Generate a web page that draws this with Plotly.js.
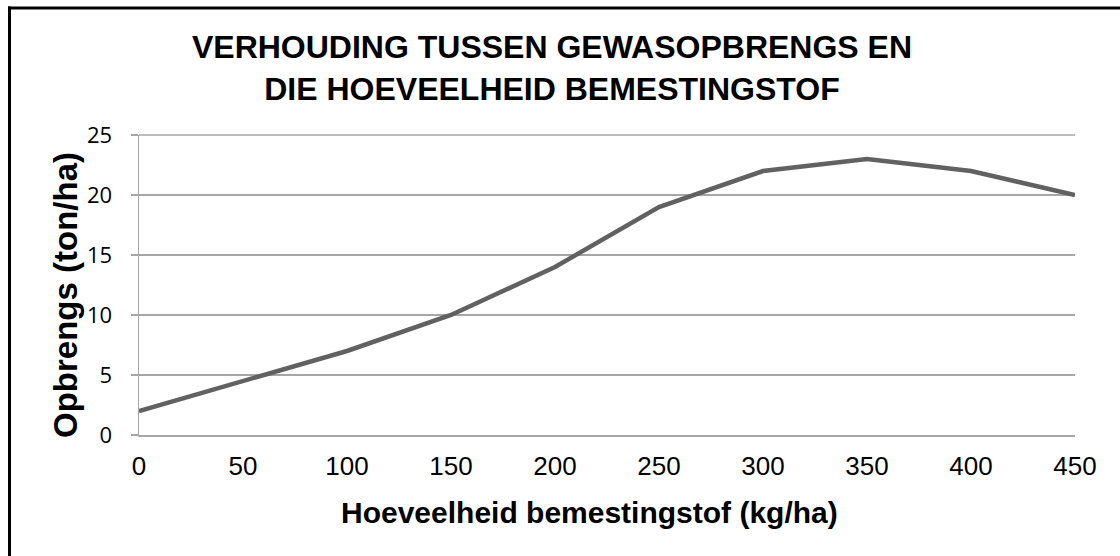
<!DOCTYPE html>
<html>
<head>
<meta charset="utf-8">
<script src="https://cdn.plot.ly/plotly-3.0.1.min.js"></script>
<style>
  html, body { margin: 0; padding: 0; background: #fff; }
  #chart { width: 1120px; height: 556px; }
</style>
</head>
<body>
<div id="chart"></div>
<script>
const fertilizer = [0, 50, 100, 150, 200, 250, 300, 350, 400, 450];
const yieldTon = [2, 4.5, 7, 10, 14, 19, 22, 23, 22, 20];
const xTicks = [0, 50, 100, 150, 200, 250, 300, 350, 400, 450];
const yTicks = [0, 5, 10, 15, 20, 25];
const chartTitle = 'VERHOUDING TUSSEN GEWASOPBRENGS EN<br>DIE HOEVEELHEID BEMESTINGSTOF';
const xTitle = 'Hoeveelheid bemestingstof (kg/ha)';
const yTitle = 'Opbrengs (ton/ha)';

const L = 139, R = 1075, T = 135, B = 435;
const W = 1120, H = 556;
function px(xp) { return (xp - L) / (R - L); }
function py(yp) { return (B - yp) / (B - T); }

const trace = {
  x: fertilizer,
  y: yieldTon,
  type: 'scatter',
  mode: 'lines',
  line: { color: '#616161', width: 4.5 },
  hoverinfo: 'x+y'
};

const boldFont = (s) => ({ family: 'Liberation Sans, Arial, sans-serif', size: s, color: '#000', weight: 'bold' });

const layout = {
  width: W,
  height: H,
  margin: { l: L, r: W - R, t: T, b: H - B, pad: 0 },
  paper_bgcolor: '#ffffff',
  plot_bgcolor: '#ffffff',
  showlegend: false,
  title: {
    text: chartTitle,
    font: boldFont(32),
    x: 552 / W, xanchor: 'center',
    y: 1 - 58 / H, yanchor: 'middle',
    xref: 'container', yref: 'container'
  },
  xaxis: {
    range: [0, 450],
    tickvals: xTicks,
    ticktext: xTicks.map(String),
    showgrid: false,
    zeroline: false,
    showline: true,
    linecolor: '#a6a6a6',
    linewidth: 1.5,
    ticks: '',
    ticklabelstandoff: 7,
    tickfont: { family: 'Liberation Sans, Arial, sans-serif', size: 26, color: '#000' },
    fixedrange: true
  },
  yaxis: {
    range: [0, 25],
    tickvals: yTicks,
    ticktext: yTicks.map(String),
    showgrid: true,
    gridcolor: '#a6a6a6',
    gridwidth: 1.5,
    zeroline: false,
    showline: true,
    linecolor: '#a6a6a6',
    linewidth: 1.5,
    ticks: 'outside',
    ticklen: 7,
    tickcolor: '#a6a6a6',
    tickwidth: 1.5,
    ticklabelstandoff: 14,
    tickfont: { family: 'Open Sans, Carlito, sans-serif', size: 22, color: '#000' },
    fixedrange: true
  },
  annotations: [
    { text: xTitle, xref: 'paper', yref: 'paper', x: px(589), y: py(512),
      xanchor: 'center', yanchor: 'middle', showarrow: false, font: boldFont(30) },
    { text: yTitle, xref: 'paper', yref: 'paper', x: px(65), y: py(295),
      xanchor: 'center', yanchor: 'middle', showarrow: false, textangle: -90, font: boldFont(33) }
  ],
  shapes: [
    { type: 'line', xref: 'paper', yref: 'paper',
      x0: px(9.5), x1: px(9.5), y0: py(6.5), y1: py(H + 5),
      line: { color: '#000', width: 3 } },
    { type: 'line', xref: 'paper', yref: 'paper',
      x0: px(8), x1: px(W + 5), y0: py(8), y1: py(8),
      line: { color: '#000', width: 3 } },
    { type: 'line', xref: 'paper', yref: 'paper',
      x0: 0, x1: 1, y0: 1, y1: 1,
      line: { color: '#a6a6a6', width: 1.5 }, layer: 'below' }
  ]
};

Plotly.newPlot('chart', [trace], layout, { displayModeBar: false, staticPlot: true });
</script>
</body>
</html>
